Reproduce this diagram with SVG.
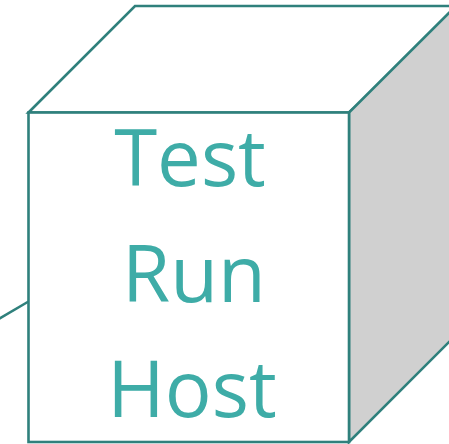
<svg xmlns="http://www.w3.org/2000/svg" width="449" height="444" viewBox="0 0 449 444">
  <style>
    .edge { stroke: #2f807c; stroke-width: 2.6; fill: none; }
    .face-front { fill: #ffffff; stroke: #2f807c; stroke-width: 2.6; }
    .face-top { fill: #ffffff; stroke: #2f807c; stroke-width: 2.6; }
    .face-side { fill: #d0d0d0; stroke: #2f807c; stroke-width: 2.6; }
    .label { font-family: "Open Sans", "Noto Sans", sans-serif; font-size: 78px; fill: #3eaca7; text-anchor: middle; }
  </style>

  <g id="connectors">
    <line class="edge" x1="-10" y1="324" x2="28.5" y2="301.5"/>
  </g>

  <g id="test-run-host">
    <polygon class="face-top" points="28.5,112.5 135,6 470,6 349,112.5"/>
    <polygon class="face-side" points="349,112.5 470,-8 470,321 349,442"/>
    <rect class="face-front" x="28.5" y="112.5" width="320.5" height="329.5"/>
    <text class="label" x="190" y="186">Test</text>
    <text class="label" x="194" y="302">Run</text>
    <text class="label" x="192" y="417">Host</text>
  </g>
</svg>
